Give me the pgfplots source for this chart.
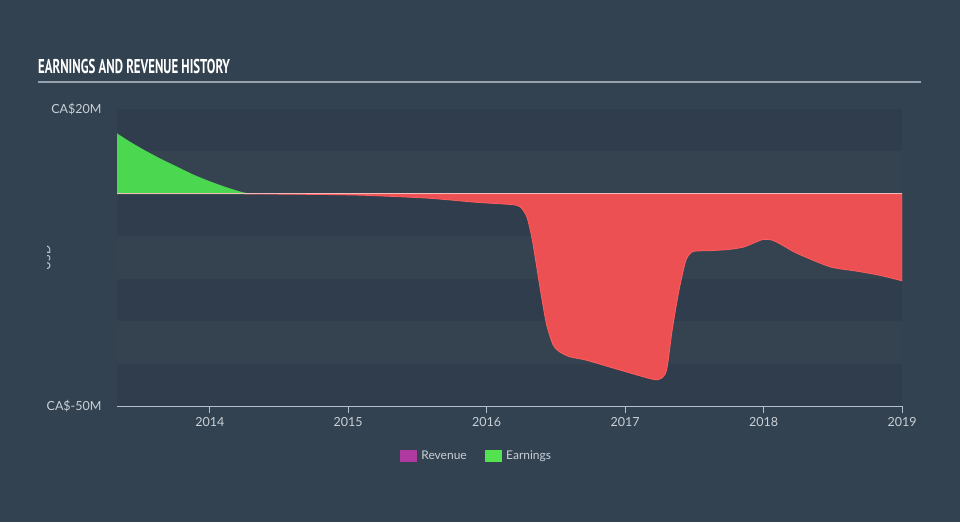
\documentclass[border=0pt]{standalone}
\usepackage{fontspec}
\setmainfont{Lato}
\newfontfamily\titlefont{PT Sans}[FakeStretch=0.64]
\usepackage{pgfplots}
\pgfplotsset{compat=1.18}
\definecolor{pagebg}{HTML}{334250}
\definecolor{banddark}{HTML}{2F3D4C}
\definecolor{bandlight}{HTML}{354351}
\definecolor{axisgrey}{HTML}{B4C0CC}
\definecolor{ticktext}{HTML}{C9D0D7}
\definecolor{rulegrey}{HTML}{98A2AD}
\definecolor{earnred}{HTML}{EC5053}
\definecolor{earnredline}{HTML}{FF5E5E}
\definecolor{earngreen}{HTML}{4CD751}
\definecolor{legmag}{HTML}{B0399F}
\definecolor{leggreen}{HTML}{53E350}
\definecolor{zerol}{HTML}{F0BABA}
\begin{document}
\begin{tikzpicture}[x=1pt,y=1pt]
\fill[pagebg] (0,0) rectangle (960,522);
\node[anchor=base west, inner sep=0, text=white] at (38,448) {\titlefont\bfseries\fontsize{20}{22}\selectfont EARNINGS AND REVENUE HISTORY};
\draw[rulegrey, line width=2pt] (38,440) -- (921,440);
\begin{axis}[
  at={(117pt,116pt)}, anchor=south west, scale only axis,
  width=785pt, height=297pt,
  xmin=2013.33, xmax=2019, ymin=-50, ymax=20,
  axis x line*=bottom, axis y line*=left,
  x axis line style={draw=axisgrey, line width=1.2pt},
  y axis line style={draw=none},
  xtick={2014,2015,2016,2017,2018,2019},
  xticklabels={2014,2015,2016,2017,2018,2019},
  tick align=outside, major tick length=7pt,
  xtick style={draw=axisgrey, line width=0.9pt},
  ytick={-50,20}, yticklabels={CA\$-50M,CA\$20M},
  ytick style={draw=none},
  x tick label style={font=\fontsize{12.5}{14}\selectfont, text=ticktext, yshift=-1pt},
  y tick label style={font=\fontsize{12.5}{14}\selectfont, text=ticktext, xshift=-5pt},
  axis background/.style={fill=bandlight},
  legend style={at={(0.458,-0.168)}, anchor=center, draw=none, fill=none,
    font=\fontsize{12}{14}\selectfont, text=ticktext,
    /tikz/every odd column/.append style={column sep=3pt},
    /tikz/every even column/.append style={column sep=16pt}},
  legend columns=2, legend cell align=left,
]
\fill[banddark] (axis cs:2013.33,10) rectangle (axis cs:2019,20);
\fill[banddark] (axis cs:2013.33,-10) rectangle (axis cs:2019,0);
\fill[banddark] (axis cs:2013.33,-30) rectangle (axis cs:2019,-20);
\fill[banddark] (axis cs:2013.33,-50) rectangle (axis cs:2019,-40);
% Earnings, positive part
\addplot[forget plot, draw=earngreen, fill=earngreen, smooth, tension=0.4] coordinates {
(2013.33,14.2) (2013.42,12.3) (2013.52,10.4) (2013.64,8.3) (2013.76,6.4) (2013.88,4.5) (2014.00,2.9) (2014.12,1.5) (2014.24,0.3) (2014.32,0)
} \closedcycle;
% Earnings, negative part
\addplot[forget plot, draw=earnredline, line width=0.8pt, fill=earnred, smooth, tension=0.4] coordinates {
(2014.25,0) (2014.65,-0.1) (2015.08,-0.3) (2015.57,-1.0) (2015.93,-2.0) (2016.17,-2.5) (2016.24,-3.0) (2016.29,-5.4) (2016.33,-10.9) (2016.38,-21) (2016.43,-30.4) (2016.48,-35.6) (2016.53,-37.3) (2016.60,-38.4) (2016.72,-39.2) (2016.96,-41.5) (2017.20,-43.7) (2017.26,-43.5) (2017.30,-41.5) (2017.34,-32.1) (2017.39,-22.6) (2017.44,-15.6) (2017.49,-13.6) (2017.61,-13.4) (2017.75,-13.1) (2017.86,-12.5) (2017.99,-10.8) (2018.06,-10.9) (2018.12,-11.8) (2018.24,-14.0) (2018.48,-17.2) (2018.67,-18.2) (2018.84,-19.2) (2019.0,-20.5)
} \closedcycle;
% zero line
\addplot[forget plot, draw=zerol, line width=1.2pt] coordinates {(2013.33,0) (2019,0)};
\addlegendimage{legend image code/.code={\fill[legmag] (0pt,-5.5pt) rectangle (16pt,5.5pt);}}
\addlegendentry{Revenue}
\addlegendimage{legend image code/.code={\fill[leggreen] (0pt,-5.5pt) rectangle (16pt,5.5pt);}}
\addlegendentry{Earnings}
\end{axis}
\begin{scope}
\clip (47.5,200) rectangle (70,300);
\node[rotate=90, text=ticktext, font=\fontsize{12}{14}\selectfont] at (46,264) {USD};
\end{scope}
\end{tikzpicture}
\end{document}
